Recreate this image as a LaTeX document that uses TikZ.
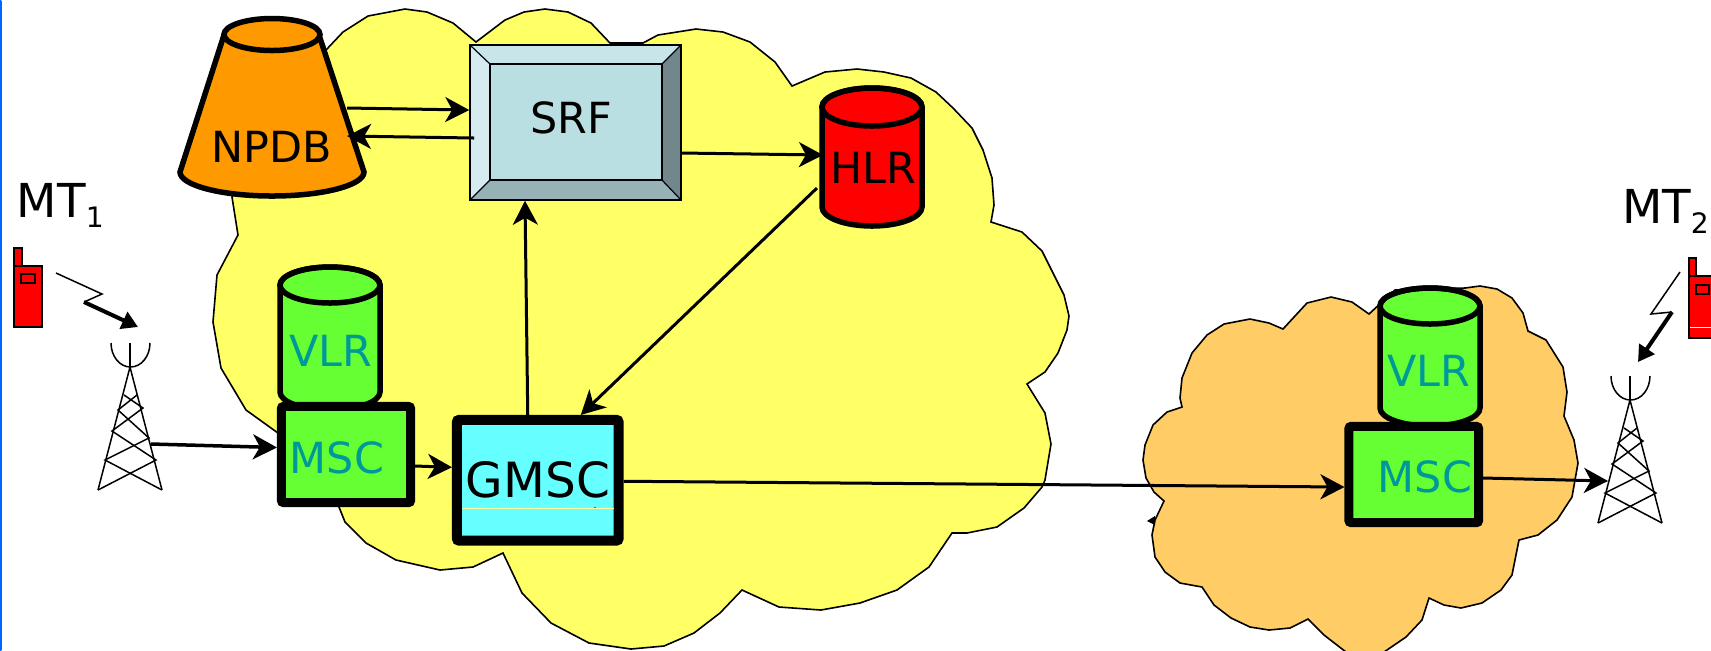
\documentclass[tikz,border=0pt]{standalone}
\usepackage{fontspec}
\setmainfont{DejaVu Sans}
\usepackage{tikz}
\usetikzlibrary{arrows.meta}
\definecolor{cloudyellow}{HTML}{FFFF66}
\definecolor{cloudorange}{HTML}{FFCC66}
\definecolor{npdborange}{HTML}{FF9900}
\definecolor{dbgreen}{HTML}{66FF33}
\definecolor{gmsccyan}{HTML}{66FFFF}
\definecolor{labelteal}{HTML}{009999}
\definecolor{srfface}{HTML}{B9DFE3}
\definecolor{srftop}{HTML}{C8E6EA}
\definecolor{srfleft}{HTML}{D5EBEF}
\definecolor{srfright}{HTML}{72878B}
\definecolor{srfbottom}{HTML}{96B2B7}
\tikzset{
  cloudline/.style={draw=black,line width=0.016cm,line join=miter},
  dbline/.style={draw=black,line width=0.055cm},
  switchbox/.style={rectangle,draw=black,line width=0.09cm,rounded corners=0.02cm,inner sep=0pt},
  lab/.style={inner sep=0pt,outer sep=0pt,font=\fontsize{12.2pt}{14pt}\selectfont},
  tlab/.style={lab,text=labelteal},
  mtlab/.style={inner sep=0pt,outer sep=0pt,font=\fontsize{13.3pt}{15pt}\selectfont},
  link/.style={draw=black,line width=0.03cm,-{Stealth[length=0.24cm,width=0.25cm,inset=0.07cm]}},
  towerline/.style={draw=black,line width=0.015cm},
  boltline/.style={draw=black,line width=0.015cm},
  phone/.style={draw=black,line width=0.014cm,fill=red},
}
\newcommand{\drawdb}[5]{
\draw[dbline,fill=#5] (#1-50,#2) -- (#1-50,#3) arc[start angle=180,end angle=0,x radius=50,y radius=#4] -- (#1+50,#2) arc[start angle=0,end angle=-180,x radius=50,y radius=#4] -- cycle;
\draw[dbline] (#1,#2) ellipse [x radius=50,y radius=#4];
}
\newcommand{\mtsub}[1]{\raisebox{-3pt}{\fontsize{8pt}{8pt}\selectfont #1}}
\begin{document}
\begin{tikzpicture}[x=0.01cm,y=-0.01cm]
\useasboundingbox (0,0) rectangle (1711,650);
\shade[top color=blue!60!cyan,middle color=blue,bottom color=blue!60!cyan] (0,0) rectangle (1.5,650);

% clouds
\filldraw[cloudline,fill=cloudyellow] (326,50) -- (343,32) -- (368,16) -- (405,9) -- (427,12) -- (453,23) -- (476,42) -- (505,20) -- (524,12) -- (545,9) -- (568,12) -- (591,23) -- (610,43) -- (643,43) -- (658,35) -- (696,29) -- (723,32) -- (750,42) -- (775,62) -- (792,86) -- (825,72) -- (857,69) -- (884,72) -- (911,78) -- (936,92) -- (953,108) -- (972,128) -- (983,150) -- (992,178) -- (994,205) -- (991,222) -- (1022,232) -- (1042,251) -- (1064,295) -- (1069,316) -- (1067,330) -- (1058,353) -- (1045,372) -- (1027,384) -- (1045,413) -- (1051,444) -- (1045,480) -- (1042,487) -- (1024,508) -- (997,527) -- (967,533) -- (952,533) -- (929,567) -- (897,590) -- (860,603) -- (821,610) -- (779,607) -- (742,590) -- (720,613) -- (694,633) -- (664,646) -- (631,649) -- (589,643) -- (551,623) -- (522,593) -- (503,553) -- (473,567) -- (440,570) -- (396,560) -- (366,543) -- (345,522) -- (339,507) -- (300,470) -- (278,433) -- (246,410) -- (221,368) -- (213,322) -- (217,275) -- (238,235) -- (232,197) -- cycle;
\filldraw[cloudline,fill=cloudorange] (1369,314) -- (1352,302) -- (1331,297) -- (1307,303) -- (1283,329) -- (1269,323) -- (1250,319) -- (1224,324) -- (1207,335) -- (1192,353) -- (1182,378) -- (1180,398) -- (1182,407) -- (1167,412) -- (1153,425) -- (1145,445) -- (1143,460) -- (1146,478) -- (1154,492) -- (1164,501) -- (1155,520) -- (1152,535) -- (1155,557) -- (1165,572) -- (1180,583) -- (1202,587) -- (1214,605) -- (1231,618) -- (1250,627) -- (1269,630) -- (1290,628) -- (1308,619) -- (1324,635) -- (1346,652) -- (1384,652) -- (1406,637) -- (1422,620) -- (1429,598) -- (1444,605) -- (1461,608) -- (1482,603) -- (1501,590) -- (1512,575) -- (1519,540) -- (1538,535) -- (1557,520) -- (1572,497) -- (1578,463) -- (1574,440) -- (1564,416) -- (1567,392) -- (1563,367) -- (1546,340) -- (1528,331) -- (1523,313) -- (1512,298) -- (1497,289) -- (1480,286) -- (1465,288) -- (1395,290) -- cycle;
\fill (1147,521) -- (1155,516) -- (1155,525) -- cycle;

% NPDB
\draw[line width=0.055cm,fill=npdborange] (224,35) -- (180,172) arc[start angle=180,end angle=0,x radius=92,y radius=24] -- (319,35) -- cycle;
\draw[line width=0.055cm,fill=npdborange] (272,34.5) ellipse [x radius=48,y radius=16];
\node[lab,minimum width=1.64cm] (NPDB) at (272,147) {NPDB};

% SRF
\fill[srftop] (470,45) -- (681,45) -- (662,64) -- (490,64) -- cycle;
\fill[srfleft] (470,45) -- (490,64) -- (490,180) -- (470,200) -- cycle;
\fill[srfright] (681,45) -- (662,64) -- (662,180) -- (681,200) -- cycle;
\fill[srfbottom] (470,200) -- (490,180) -- (662,180) -- (681,200) -- cycle;
\draw[line width=0.012cm,fill=srfface] (490,64) rectangle (662,180);
\draw[line width=0.012cm] (470,45) -- (490,64) (681,45) -- (662,64) (470,200) -- (490,180) (681,200) -- (662,180);
\node[rectangle,draw=black,line width=0.014cm,inner sep=0pt,minimum width=2.11cm,minimum height=1.55cm] (SRF) at (575.5,122.5) {};
\node[lab] (SRFtext) at (571,118) {SRF};

% HLR and VLRs
\drawdb{872}{107}{207}{19}{red}
\node[lab,minimum width=1.04cm] (HLR) at (873,168) {HLR};
\drawdb{330}{285}{392}{18}{dbgreen}
\node[tlab] (VLR1) at (331,351) {VLR};
\drawdb{1430}{306}{408}{18}{dbgreen}
\node[tlab] (VLR2) at (1429,371) {VLR};

% switches
\node[switchbox,fill=dbgreen,minimum width=1.29cm,minimum height=0.96cm] (MSC1) at (346,454.5) {};
\node[tlab] (MSC1text) at (337,458) {MSC};
\node[switchbox,fill=gmsccyan,line width=0.1cm,minimum width=1.615cm,minimum height=1.205cm] (GMSC) at (537.75,480.25) {};
\node[lab,font=\fontsize{13.8pt}{16pt}\selectfont] (GMSCtext) at (538,480) {GMSC};
\draw[yellow!40,line width=0.008cm] (462,508) -- (614,508);
\fill (595,507.5) circle [radius=0.6];
\node[switchbox,fill=dbgreen,minimum width=1.295cm,minimum height=0.96cm] (MSC2) at (1413.75,474.5) {};
\node[tlab] (MSC2text) at (1425,477) {MSC};

% towers
\foreach \tx/\ty in {0/0,1500/33}{
\begin{scope}[shift={(\tx,\ty)}]
\draw[towerline] (111,343) arc[start angle=180,end angle=0,x radius=19.5,y radius=24];
\draw[towerline] (130,343) -- (130,367);
\draw[towerline] (98,490) -- (130,367) -- (162,490);
\draw[towerline] (98,490) -- (156,460) -- (112,431) -- (143,408) -- (124,395);
\draw[towerline] (162,490) -- (105,460) -- (149,438) -- (118,410) -- (137,395);
\end{scope}
}
\coordinate (towerAport) at (151,444);
\coordinate (towerBport) at (1608,481);

% phones and bolts
\draw[phone] (14,248) rectangle (22,266);
\draw[phone] (14,266) rectangle (42,327);
\draw[black,line width=0.014cm] (21,274) rectangle (35,283);
\draw[phone] (1689,258) rectangle (1696,276);
\draw[phone] (1689,276) rectangle (1720,338);
\draw[black,line width=0.014cm] (1696,285) rectangle (1709,294);
\draw[white,line width=0.01cm] (1690,327) -- (1711,327);
\draw[boltline] (56,273) -- (102,294) -- (84,302);
\draw[line width=0.04cm,-{Stealth[length=0.16cm,width=0.18cm,inset=0cm]}] (84,302) -- (138,327);
\draw[boltline] (1680,272) -- (1651,314) -- (1672,312);
\draw[line width=0.04cm,-{Stealth[length=0.16cm,width=0.18cm,inset=0cm]}] (1672,312) -- (1638,362);

% labels
\node[mtlab,anchor=base west] (MT1) at (17,217) {MT\mtsub{1}};
\node[mtlab,anchor=base west] (MT2) at (1622,223) {MT\mtsub{2}};

% links
\draw[link] ([shift={(-7,-39)}]NPDB.east) -- ([shift={(0,-12.5)}]SRF.west);
\draw[link] ([shift={(5,15.5)}]SRF.west) -- ([shift={(-7,-11)}]NPDB.east);
\draw[link] ([shift={(0,30.5)}]SRF.east) -- ([shift={(2,-13)}]HLR.west);
\draw[link] ([shift={(-4,20)}]HLR.west) -- ([shift={(43,0)}]GMSC.north);
\draw[link] ([shift={(-10,0)}]GMSC.north) -- ([shift={(-50.5,0)}]SRF.south);
\draw[link,line width=0.035cm] (towerAport) -- ([shift={(0,-7)}]MSC1.west);
\draw[link] ([shift={(0,11.5)}]MSC1.east) -- ([shift={(0,-13)}]GMSC.west);
\draw[link] ([shift={(0,1)}]GMSC.east) -- ([shift={(0,12.5)}]MSC2.west);
\draw[link] ([shift={(0,3.5)}]MSC2.east) -- (towerBport);
\end{tikzpicture}
\end{document}
